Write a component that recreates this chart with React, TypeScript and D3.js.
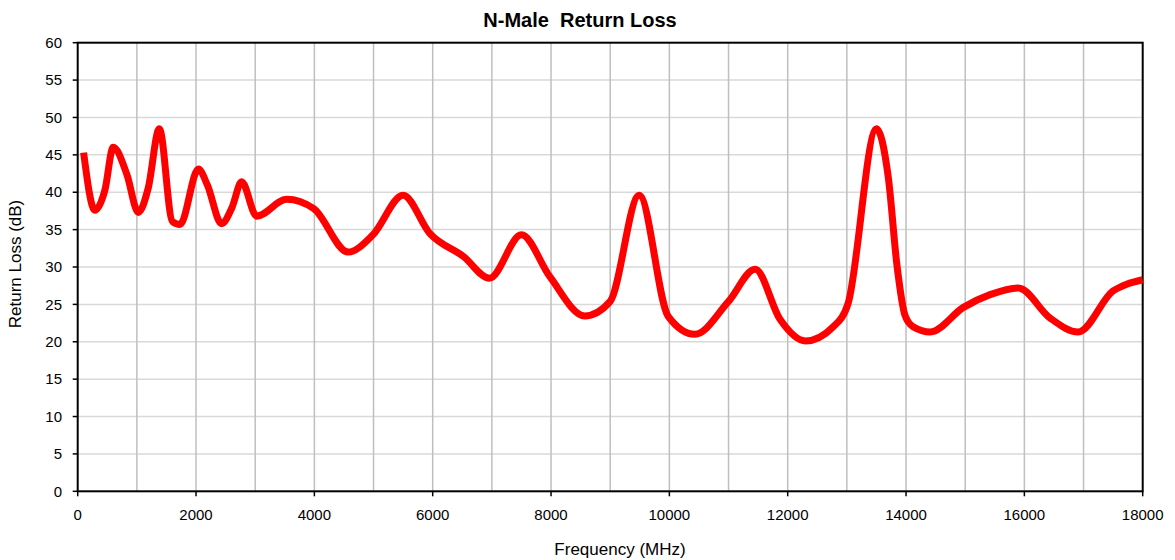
import React from "react";
import * as d3 from "d3";

const freqs = [100, 290, 460, 600, 830, 1025, 1190, 1380, 1600, 1730, 2040, 2190, 2430, 2610, 2770, 3025, 3530, 3990, 4570, 4990, 5500, 5950, 6520, 6960, 7500, 7980, 8570, 9000, 9490, 9980, 10430, 11000, 11450, 11870, 12300, 12770, 13020, 13500, 13700, 13850, 13980, 14120, 14410, 14970, 15420, 15900, 16430, 16910, 17500, 17730, 18000];
const returnLoss = [45.3, 37.6, 40.3, 46.0, 42.4, 37.3, 40.5, 48.5, 36.1, 35.7, 43.1, 41.0, 35.8, 38.0, 41.4, 36.8, 39.05, 37.8, 32.0, 34.3, 39.6, 34.5, 31.4, 28.5, 34.3, 28.7, 23.45, 25.4, 39.6, 23.4, 21.0, 25.4, 29.7, 23.0, 20.1, 22.0, 25.1, 48.5, 42.0, 30.0, 23.6, 22.0, 21.3, 24.6, 26.3, 27.2, 23.2, 21.3, 26.8, 27.7, 28.3];
const xTicks = [0, 2000, 4000, 6000, 8000, 10000, 12000, 14000, 16000, 18000];
const xGrid = d3.range(1000, 18000, 1000);
const yTicks = d3.range(0, 61, 5);

const title = "N-Male  Return Loss";
const xLabel = "Frequency (MHz)";
const yLabel = "Return Loss (dB)";

export default function App() {
  const W = 1175, H = 560;
  const left = 77.7, right = 1142.7, top = 42.7, bottom = 491.3;
  const x = d3.scaleLinear().domain([0, 18000]).range([left, right]);
  const y = d3.scaleLinear().domain([0, 60]).range([bottom, top]);
  const data = freqs.map((f, i) => [f, returnLoss[i]] as [number, number]);
  const line = d3.line<[number, number]>().x(d => x(d[0])).y(d => y(d[1])).curve(d3.curveMonotoneX);
  const font = "Arial, 'Liberation Sans', sans-serif";
  return (
    <svg width={W} height={H} style={{ position: "absolute", left: 0, top: 0, background: "#fff" }} fontFamily={font}>
      {yTicks.filter(t => t > 0 && t < 60).map(t => (
        <line key={"hy" + t} x1={left} x2={right} y1={y(t)} y2={y(t)} stroke="#d9d9d9" strokeWidth={1.5} />
      ))}
      {xGrid.map(t => (
        <line key={"vx" + t} x1={x(t)} x2={x(t)} y1={top} y2={bottom} stroke="#bfbfbf" strokeWidth={1.5} />
      ))}
      <rect x={left} y={top} width={right - left} height={bottom - top} fill="none" stroke="#000" strokeWidth={2} />
      {yTicks.map(t => (
        <g key={"yt" + t}>
          <line x1={left - 5} x2={left} y1={y(t)} y2={y(t)} stroke="#000" strokeWidth={1.5} />
          <text x={62} y={y(t)} dy="0.35em" textAnchor="end" fontSize={15} fill="#000">{t}</text>
        </g>
      ))}
      {xTicks.map(t => (
        <g key={"xt" + t}>
          <line x1={x(t)} x2={x(t)} y1={bottom} y2={bottom + 5} stroke="#000" strokeWidth={1.5} />
          <text x={x(t)} y={520} textAnchor="middle" fontSize={15} fill="#000">{t}</text>
        </g>
      ))}
      <path d={line(data) || ""} fill="none" stroke="#ff0000" strokeWidth={7} strokeLinejoin="round" strokeLinecap="butt" />
      <text x={580} y={27} textAnchor="middle" fontSize={20} fontWeight="bold" fill="#000" style={{ whiteSpace: "pre" }}>{title}</text>
      <text x={620} y={555} textAnchor="middle" fontSize={17} fill="#000">{xLabel}</text>
      <text transform={`translate(21,264) rotate(-90)`} textAnchor="middle" fontSize={17} fill="#000">{yLabel}</text>
    </svg>
  );
}
